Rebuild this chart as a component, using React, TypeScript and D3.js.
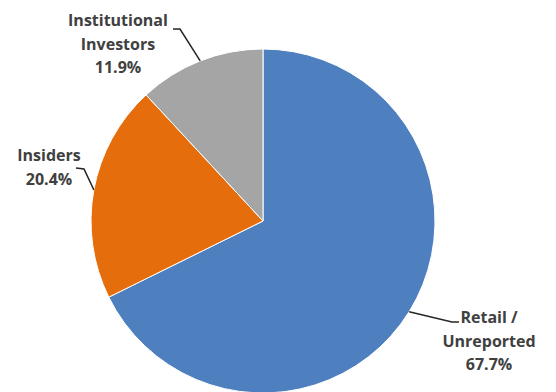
import React from "react";
import * as d3 from "d3";

const categories = ["Retail / Unreported", "Insiders", "Institutional Investors"];
const values = [67.7, 20.4, 11.9];
const labelLines = [["Retail /", "Unreported", "67.7%"], ["Insiders", "20.4%"], ["Institutional", "Investors", "11.9%"]];
const colors = ["#4e7fbf", "#e66d0b", "#a5a5a5"];

const W = 556, H = 392;
const cx = 263, cy = 221, R = 172;
// label anchor (center x, first baseline y) and elbow offsets per slice
const labelLayout = [
  { x: 489, y: 323, elbow: [452, 322], end: [459, 322] },
  { x: 49, y: 161, elbow: [84, 169], end: [76, 168] },
  { x: 118, y: 26, elbow: [180, 29], end: [173, 29] },
];

export default function App() {
  const pie = d3.pie<number>().sort(null).value((d) => d)(values);
  const arc = d3.arc<d3.PieArcDatum<number>>().innerRadius(0).outerRadius(R);
  const edgeArc = d3.arc<d3.PieArcDatum<number>>().innerRadius(R).outerRadius(R);
  const lh = 23.5;
  return (
    <svg width={W} height={H} style={{ position: "absolute", left: 0, top: 0, background: "#fff" }}
      fontFamily="'Open Sans', sans-serif">
      <g transform={`translate(${cx},${cy})`}>
        {pie.map((p, i) => (
          <path key={categories[i]} d={arc(p) || ""} fill={colors[i]} stroke="#fff" strokeWidth={1} />
        ))}
      </g>
      {pie.map((p, i) => {
        const [ex, ey] = edgeArc.centroid(p);
        const L = labelLayout[i];
        const pts: [number, number][] = [[cx + ex, cy + ey], L.elbow as [number, number], L.end as [number, number]];
        return (
          <g key={"l" + i}>
            <path d={d3.line()(pts) || ""} fill="none" stroke="#262626" strokeWidth={1.5} />
            <text textAnchor="middle" fill="#404040" fontSize={16} fontWeight="bold">
              {labelLines[i].map((t, j) => (
                <tspan key={j} x={L.x} y={L.y + j * lh}>{t}</tspan>
              ))}
            </text>
          </g>
        );
      })}
    </svg>
  );
}
